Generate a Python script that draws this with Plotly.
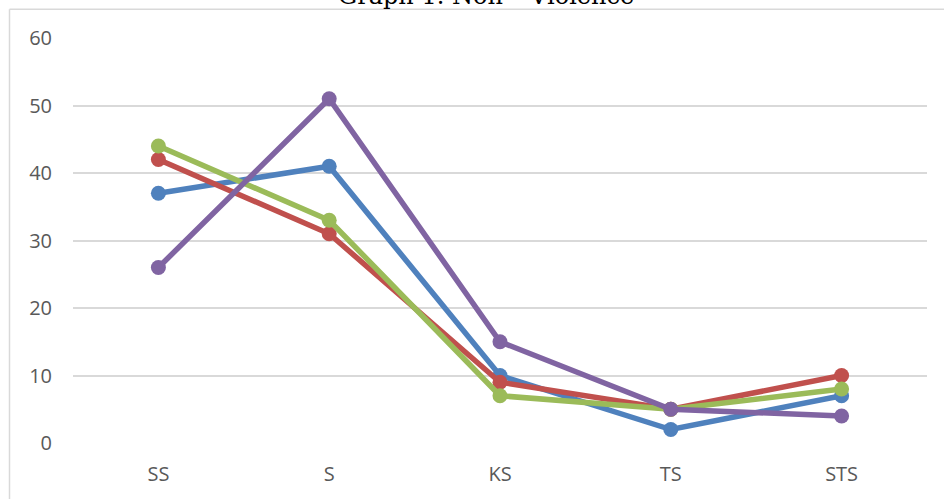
import plotly.graph_objects as go

# Response categories on the x axis
categories = ["SS", "S", "KS", "TS", "STS"]

# One series per group, values read per category
series_1 = [37, 41, 10, 2, 7]
series_2 = [42, 31, 9, 5, 10]
series_3 = [44, 33, 7, 5, 8]
series_4 = [26, 51, 15, 5, 4]

y_ticks = [0, 10, 20, 30, 40, 50, 60]

colors = ["#4F81BD", "#C0504D", "#9BBB59", "#8064A2"]
names = ["Series 1", "Series 2", "Series 3", "Series 4"]

W, H = 944, 499
L, R, T, B = 73, 17, 38, 54
pw, ph = W - L - R, H - T - B


def px_x(p):
    return (p - L) / pw


def px_y(p):
    return (H - B - p) / ph


fig = go.Figure()
for vals, c, n in zip([series_1, series_2, series_3, series_4], colors, names):
    fig.add_trace(go.Scatter(
        x=categories, y=vals, name=n, mode="lines+markers",
        line=dict(color=c, width=5.5),
        marker=dict(color=c, size=15),
    ))

grey = "#D9D9D9"
fig.update_layout(
    width=W, height=H,
    margin=dict(l=L, r=R, t=T, b=B),
    paper_bgcolor="white", plot_bgcolor="white",
    showlegend=False,
    font=dict(family="Open Sans", color="#595959", size=20),
    xaxis=dict(
        range=[-0.5, 4.5], showgrid=False, zeroline=False, showline=False,
        ticks="", ticklabelstandoff=17, tickfont=dict(size=20),
    ),
    yaxis=dict(
        range=[0, 60], tickvals=y_ticks, showgrid=True, gridcolor=grey,
        gridwidth=1.5, zeroline=False, showline=False, ticks="",
        ticklabelstandoff=20, tickfont=dict(size=20),
    ),
    shapes=[
        dict(type="line", xref="paper", yref="paper",
             x0=px_x(9.5), x1=px_x(9.5), y0=px_y(9), y1=px_y(520),
             line=dict(color=grey, width=1.5)),
        dict(type="line", xref="paper", yref="paper",
             x0=px_x(9.5), x1=px_x(960), y0=px_y(9), y1=px_y(9),
             line=dict(color=grey, width=1.5)),
    ],
    annotations=[
        dict(text="Graph 1. Non – Violence", xref="paper", yref="paper",
             x=px_x(486), y=px_y(-4.5), xanchor="center", yanchor="middle",
             showarrow=False,
             font=dict(family="DejaVu Serif", size=24, color="#000000")),
    ],
)

fig.write_html("out.html")
